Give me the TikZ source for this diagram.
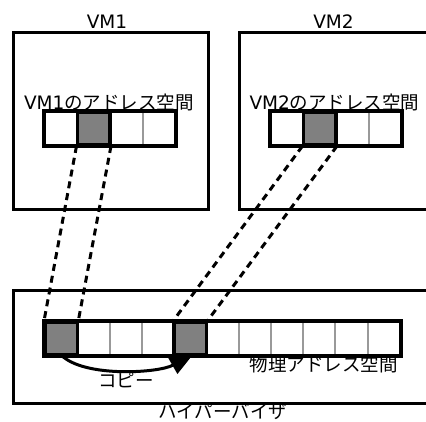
\documentclass[tikz,border=0pt]{standalone}
\usepackage{fontspec}
\setmainfont{DejaVu Sans}
\newfontfamily\jp{Noto Sans CJK JP}
\usetikzlibrary{arrows.meta}
\tikzset{
  box/.style={draw=black, line width=3pt, fill=white, inner sep=0pt},
  cell/.style={draw=black!40, line width=2pt, fill=white, minimum width=32.3pt, minimum height=33pt, inner sep=0pt},
  vcell/.style={cell, minimum width=32.5pt},
  darkcell/.style={draw=black, line width=3.2pt, fill=black!50},
  frame/.style={draw=black, line width=3.2pt},
  link/.style={draw=black, line width=3pt, dash pattern=on 7pt off 5pt},
  lbl/.style={font=\fontsize{18.5}{20}\selectfont, inner sep=0pt, anchor=base},
  copyarrow/.style={line width=3pt, -{Triangle[length=25pt,width=19pt]}},
}
\begin{document}
\begin{tikzpicture}[x=1pt,y=-1pt]
\clip (0,0) rectangle (426,421);
\fill[white] (0,0) rectangle (426,421);
% boxes
\node[box, minimum width=195pt, minimum height=177pt] (vm1) at (110.5,120.5) {};
\node[box, minimum width=189pt, minimum height=177pt] (vm2) at (333.5,120.5) {};
\node[box, minimum width=420pt, minimum height=113pt] (hyp) at (223,346.5) {};
% labels
\node[lbl] (vm1t) at (107,28) {VM1};
\node[lbl] (vm2t) at (333.5,28) {VM2};
\node[lbl] (vm1a) at (109,109) {VM1{\jp のアドレス空間}};
\node[lbl] (vm2a) at (334.5,109) {VM2{\jp のアドレス空間}};
\node[lbl] (hypt) at (223,418) {\jp ハイパーバイザ};
% VM1 bar
\foreach \i in {1,...,4} \node[vcell] (a\i) at ({45+32.5*(\i-0.5)},128.5) {};
\node[vcell, darkcell] (a2x) at (a2) {};
\draw[frame] (a1.north west) rectangle (a4.south east);
% VM2 bar
\foreach \i in {1,...,4} \node[vcell] (b\i) at ({271+32.5*(\i-0.5)},128.5) {};
\node[vcell, darkcell] (b2x) at (b2) {};
\draw[frame] (b1.north west) rectangle (b4.south east);
% physical bar cell centres
\foreach \i in {1,...,11} \coordinate (pc\i) at ({45+32.27*(\i-0.5)},338.5);
% copy arrow (drawn under the bar)
\coordinate (start) at ([yshift=-16.5pt]pc1);
\coordinate (tip) at ([xshift=4pt,yshift=-14.5pt]pc5);
\draw[copyarrow] (start) .. controls +(23,23) and +(-35,20) .. (tip);
\node[lbl] (copy) at (126,387) {\jp コピー};
% physical bar
\foreach \i in {1,...,11} \node[cell] (p\i) at (pc\i) {};
\node[cell, darkcell] (p1x) at (p1) {};
\node[cell, darkcell] (p5x) at (p5) {};
\draw[frame] (p1.north west) rectangle (p11.south east);
\node[lbl, anchor=base east] (phyt) at (398,371) {\jp 物理アドレス空間};
% mapping links
\draw[link] (a2.south west) -- (p1.north west);
\draw[link] (a2.south east) -- (p1.north east);
\draw[link] (b2.south west) -- (p5.north west);
\draw[link] (b2.south east) -- (p5.north east);
\end{tikzpicture}
\end{document}
